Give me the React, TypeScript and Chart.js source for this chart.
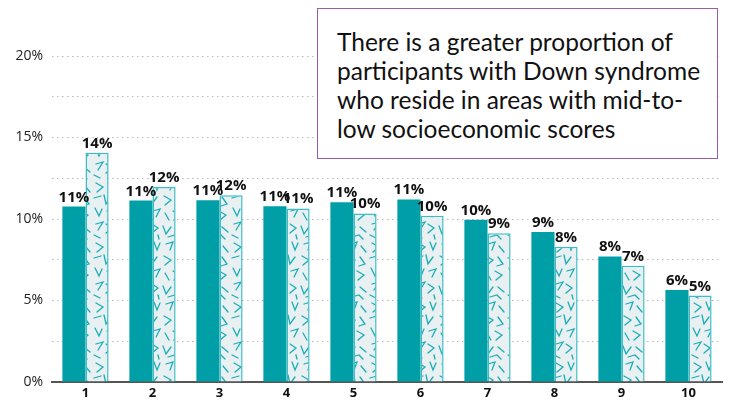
import React, { useEffect, useRef } from "react";
import { Chart, registerables } from "chart.js";

Chart.register(...registerables);

const categories = ["1", "2", "3", "4", "5", "6", "7", "8", "9", "10"];
const downSyndromeValues = [10.76, 11.13, 11.15, 10.78, 11.02, 11.2, 9.95, 9.2, 7.7, 5.64];
const comparisonValues = [14.06, 11.97, 11.45, 10.65, 10.34, 10.2, 9.12, 8.3, 7.13, 5.3];
const downSyndromeLabels = ["11%", "11%", "11%", "11%", "11%", "11%", "10%", "9%", "8%", "6%"];
const comparisonLabels = ["14%", "12%", "12%", "11%", "10%", "10%", "9%", "8%", "7%", "5%"];
const yMax = 20;
const yStep = 2.5;
const calloutLines = [
  "There is a greater proportion of",
  "participants with Down syndrome",
  "who reside in areas with mid-to-",
  "low socioeconomic scores",
];

const TEAL = "#009fa8";
const PATTERN_BG = "#e9f0f2";
const PATTERN_STROKE = "#1aaeb8";
const PATTERN_BORDER = "#3dbcc4";

// decorative strokes for the hatched fill tile (46 x 60)
const patternStrokes: number[][][] = [
  [[4, 3], [11, 7], [5, 12]],
  [[16, 2], [19, 10], [22, 3]],
  [[28, 4], [35, 2], [32, 10]],
  [[39, 6], [44, 12]],
  [[2, 18], [9, 16]],
  [[12, 15], [14, 24], [19, 17]],
  [[26, 16], [33, 20], [27, 25]],
  [[38, 17], [43, 24], [37, 26]],
  [[3, 28], [7, 36], [10, 29]],
  [[15, 31], [22, 29], [18, 37]],
  [[27, 33], [31, 40]],
  [[35, 31], [42, 35], [36, 40]],
  [[4, 44], [11, 42], [6, 50]],
  [[14, 44], [20, 48], [14, 53]],
  [[25, 46], [28, 54], [33, 47]],
  [[38, 47], [44, 52]],
  [[2, 55], [8, 58]],
  [[20, 55], [21, 59]],
  [[30, 57], [37, 55], [41, 59]],
];

function makePattern(): CanvasPattern | string {
  const c = document.createElement("canvas");
  c.width = 46;
  c.height = 60;
  const ctx = c.getContext("2d");
  if (!ctx) return PATTERN_BG;
  ctx.fillStyle = PATTERN_BG;
  ctx.fillRect(0, 0, c.width, c.height);
  ctx.strokeStyle = PATTERN_STROKE;
  ctx.lineWidth = 1.3;
  ctx.lineCap = "round";
  ctx.lineJoin = "miter";
  for (const s of patternStrokes) {
    ctx.beginPath();
    ctx.moveTo(s[0][0], s[0][1]);
    for (let i = 1; i < s.length; i++) ctx.lineTo(s[i][0], s[i][1]);
    ctx.stroke();
  }
  const p = ctx.createPattern(c, "repeat");
  return p || PATTERN_BG;
}

const valueLabelPlugin = {
  id: "valueLabels",
  afterDatasetsDraw(chart: any) {
    const ctx = chart.ctx;
    const labelSets = [downSyndromeLabels, comparisonLabels];
    ctx.save();
    ctx.font = "bold 15px 'Open Sans'";
    ctx.fillStyle = "#111";
    ctx.textAlign = "center";
    ctx.textBaseline = "alphabetic";
    chart.data.datasets.forEach((_: any, di: number) => {
      const meta = chart.getDatasetMeta(di);
      meta.data.forEach((bar: any, i: number) => {
        ctx.fillText(labelSets[di][i], bar.x, bar.y - 5);
      });
    });
    ctx.restore();
  },
};

export default function App() {
  const canvasRef = useRef<HTMLCanvasElement | null>(null);

  useEffect(() => {
    if (!canvasRef.current) return;
    const pattern = makePattern();
    const chart = new Chart(canvasRef.current, {
      type: "bar",
      data: {
        labels: categories,
        datasets: [
          {
            label: "Participants with Down syndrome",
            data: downSyndromeValues,
            backgroundColor: TEAL,
            borderWidth: 0,
            categoryPercentage: 0.69,
            barPercentage: 1,
          },
          {
            label: "Comparison population",
            data: comparisonValues,
            backgroundColor: pattern as any,
            borderColor: PATTERN_BORDER,
            borderWidth: 1.5,
            categoryPercentage: 0.69,
            barPercentage: 1,
          },
        ],
      },
      options: {
        responsive: false,
        animation: false,
        layout: { padding: { top: 56, right: 10, left: 0, bottom: 0 } },
        plugins: {
          legend: { display: false },
          tooltip: { enabled: false },
        },
        scales: {
          x: {
            grid: { display: false, drawTicks: false },
            border: { display: true, color: "#555", width: 2 },
            ticks: {
              color: "#111",
              font: { family: "'Open Sans'", size: 13, weight: "bold" },
              padding: 3,
            },
            afterFit(scale: any) {
              scale.height = 18;
            },
          },
          y: {
            min: 0,
            max: yMax,
            grid: {
              color: "#b8b8b8",
              lineWidth: 1,
              drawTicks: false,
            },
            border: { display: false, dash: [1.5, 3.5] },
            ticks: {
              stepSize: yStep,
              color: "#222",
              font: { family: "'Open Sans'", size: 14 },
              padding: 9,
              callback: (v: any) => (Number(v) % 5 === 0 ? `${v}%` : ""),
            },
            afterFit(scale: any) {
              scale.width = 52;
            },
          },
        },
      },
      plugins: [valueLabelPlugin],
    });
    return () => chart.destroy();
  }, []);

  return (
    <div style={{ position: "absolute", left: 0, top: 0, width: 732, height: 400, background: "#fff" }}>
      <canvas ref={canvasRef} width={732} height={400} style={{ display: "block" }} />
      <div
        style={{
          position: "absolute",
          left: 317,
          top: 8,
          width: 401,
          height: 151,
          boxSizing: "border-box",
          border: "1.5px solid #9b5ca6",
          background: "#fff",
          padding: "18px 0 0 19px",
          fontFamily: "Lato, 'Open Sans', sans-serif",
          fontSize: 24.5,
          lineHeight: "29px",
          color: "#111",
          whiteSpace: "nowrap",
        }}
      >
        {calloutLines.map((l, i) => (
          <div key={i}>{l}</div>
        ))}
      </div>
    </div>
  );
}
